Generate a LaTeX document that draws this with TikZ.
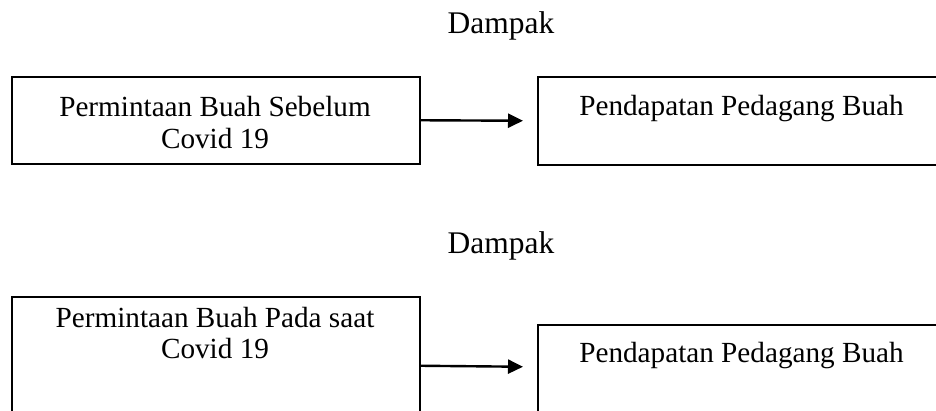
\documentclass[tikz,border=0pt]{standalone}
\usepackage{fontspec}
\setmainfont{Liberation Serif}
\usetikzlibrary{arrows.meta,calc}
\begin{document}
\begin{tikzpicture}[x=1pt, y=-1pt,
  box/.style={draw=black, line width=1.5pt, rectangle, inner sep=0pt, anchor=north west},
  txt/.style={inner sep=0pt, anchor=base, font=\fontsize{29.2}{34}\selectfont},
  head/.style={inner sep=0pt, anchor=base, font=\fontsize{31.5}{36}\selectfont},
  arr/.style={draw=black, line width=2.4pt, -{Triangle[length=15pt, width=14pt]}}]
  \useasboundingbox (0,0) rectangle (936,410);
  \clip (0,0) rectangle (936,410);

  % upper pair: demand before Covid 19
  \node[head] (d1) at (501,33) {Dampak};
  \node[box, minimum width=408pt, minimum height=87pt] (b1) at (11,76) {};
  \node[txt] (t1a) at (215,116) {Permintaan Buah Sebelum};
  \node[txt] (t1b) at (215,148) {Covid 19};
  \node[box, minimum width=420pt, minimum height=88pt] (b2) at (537,76) {};
  \node[txt] (t2) at (741.5,115) {Pendapatan Pedagang Buah};
  \draw[arr] (b1.east) -- ([xshift=-14pt]b2.west);

  % lower pair: demand during Covid 19
  \node[head] (d2) at (501,253) {Dampak};
  \node[box, minimum width=408pt, minimum height=138pt] (b3) at (11,296) {};
  \node[txt] (t3a) at (215,327) {Permintaan Buah Pada saat};
  \node[txt] (t3b) at (215,358) {Covid 19};
  \node[box, minimum width=420pt, minimum height=110pt] (b4) at (537,324) {};
  \node[txt] (t4) at (741.5,362) {Pendapatan Pedagang Buah};
  \draw[arr] (b3.east) -- ($(b4.west |- b3.east)+(-14,1)$);
\end{tikzpicture}
\end{document}
